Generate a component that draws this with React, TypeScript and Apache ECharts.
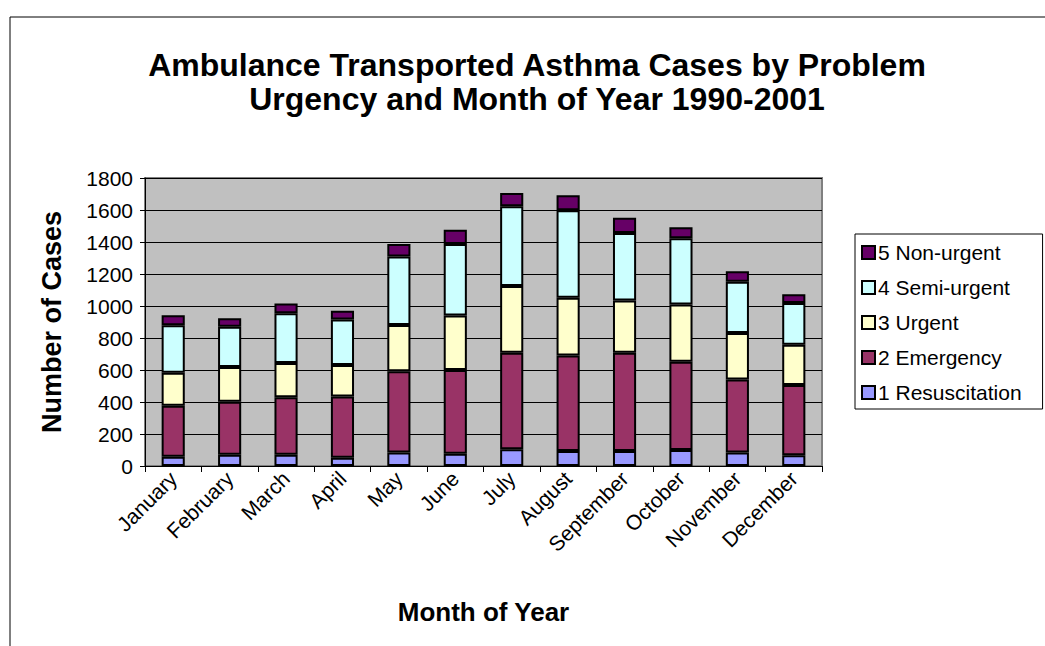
import React, { useEffect, useRef } from "react";
import * as echarts from "echarts";

const months = ["January", "February", "March", "April", "May", "June", "July", "August", "September", "October", "November", "December"];
const resuscitation = [58, 71, 71, 52, 85, 77, 104, 94, 94, 100, 85, 67];
const emergency = [319, 331, 358, 383, 507, 523, 604, 596, 614, 552, 455, 439];
const urgent = [206, 217, 215, 196, 289, 340, 417, 362, 327, 358, 291, 252];
const semiUrgent = [296, 252, 310, 284, 429, 448, 498, 546, 421, 413, 321, 261];
const nonUrgent = [63, 52, 61, 56, 78, 89, 83, 94, 96, 69, 65, 54];
const yTicks = [0, 200, 400, 600, 800, 1000, 1200, 1400, 1600, 1800];

const FONT = "'Liberation Sans', Arial, sans-serif";

const seriesDefs = [
  { name: "1 Resuscitation", data: resuscitation, color: "#9999FF" },
  { name: "2 Emergency", data: emergency, color: "#993366" },
  { name: "3 Urgent", data: urgent, color: "#FFFFCC" },
  { name: "4 Semi-urgent", data: semiUrgent, color: "#CCFFFF" },
  { name: "5 Non-urgent", data: nonUrgent, color: "#660066" },
];

export default function App() {
  const ref = useRef<HTMLDivElement>(null);
  useEffect(() => {
    if (!ref.current) return;
    const chart = echarts.init(ref.current, undefined, { renderer: "svg" });
    chart.setOption({
      animation: false,
      backgroundColor: "#FFFFFF",
      textStyle: { fontFamily: FONT },
      title: {
        text: "Ambulance Transported Asthma Cases by Problem\nUrgency and Month of Year 1990-2001",
        left: 532,
        top: 43,
        textAlign: "center",
        textStyle: { fontFamily: FONT, fontSize: 32, fontWeight: "bold", color: "#000", lineHeight: 34 },
      },
      graphic: [
        {
          type: "rect",
          shape: { x: 10, y: 17, width: 1200, height: 800 },
          style: { fill: "none", stroke: "#000", lineWidth: 1 },
          silent: true,
        },
      ],
      legend: {
        orient: "vertical",
        left: 855,
        top: 234,
        data: ["5 Non-urgent", "4 Semi-urgent", "3 Urgent", "2 Emergency", "1 Resuscitation"],
        itemWidth: 13,
        itemHeight: 13,
        itemGap: 14,
        icon: "rect",
        borderColor: "#000",
        borderWidth: 1,
        padding: [8, 21, 6, 6],
        textStyle: { fontFamily: FONT, fontSize: 21, color: "#000", lineHeight: 19, padding: [0, 0, 0, -2] },
      },
      grid: {
        left: 145,
        top: 178,
        right: 223,
        bottom: 180,
        show: true,
        backgroundColor: "#C0C0C0",
        borderColor: "#808080",
        borderWidth: 2,
      },
      xAxis: {
        type: "category",
        data: months,
        axisLine: { lineStyle: { color: "#000", width: 1 } },
        axisTick: { show: true, length: 6, lineStyle: { color: "#000" } },
        axisLabel: { rotate: 45, fontSize: 21, fontFamily: FONT, color: "#000", margin: 9 },
        name: "Month of Year",
        nameLocation: "middle",
        nameGap: 133,
        nameTextStyle: { fontFamily: FONT, fontSize: 26, fontWeight: "bold", color: "#000" },
      },
      yAxis: {
        type: "value",
        min: 0,
        max: 1800,
        interval: 200,
        axisLine: { show: true, lineStyle: { color: "#000", width: 1 } },
        axisTick: { show: true, length: 5, lineStyle: { color: "#000" } },
        axisLabel: {
          fontSize: 21,
          fontFamily: FONT,
          color: "#000",
          margin: 12,
          formatter: (v: number) => (yTicks.includes(v) ? String(v) : ""),
        },
        splitLine: { show: true, lineStyle: { color: "#000", width: 1 } },
        name: "Number of Cases",
        nameLocation: "middle",
        nameGap: 80,
        nameTextStyle: { fontFamily: FONT, fontSize: 27, fontWeight: "bold", color: "#000" },
      },
      series: seriesDefs.map((s) => ({
        name: s.name,
        type: "bar",
        stack: "total",
        data: s.data,
        barWidth: "41%",
        itemStyle: { color: s.color, borderColor: "#000", borderWidth: 2 },
      })),
    });
    return () => chart.dispose();
  }, []);
  return <div ref={ref} style={{ position: "fixed", left: 0, top: 0, width: 1045, height: 646 }} />;
}
